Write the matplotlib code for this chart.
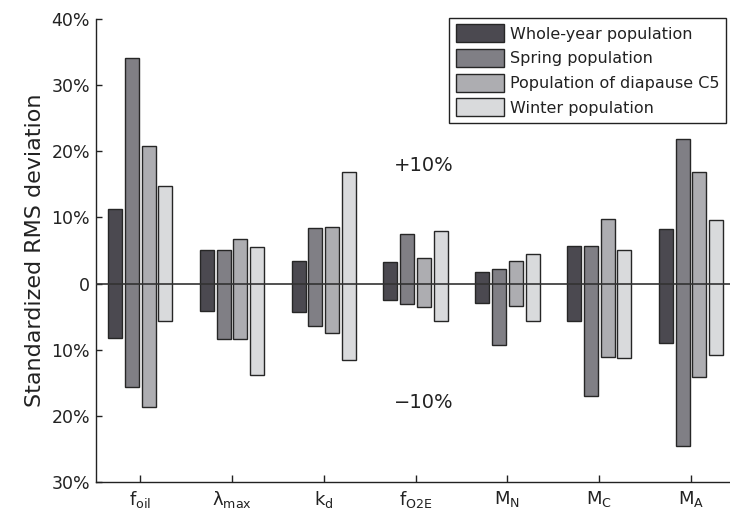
import matplotlib.pyplot as plt
import numpy as np

params = [r'$\mathregular{f_{oil}}$', r'$\mathregular{\lambda_{max}}$', r'$\mathregular{k_d}$',
          r'$\mathregular{f_{O2E}}$', r'$\mathregular{M_N}$', r'$\mathregular{M_C}$', r'$\mathregular{M_A}$']

series = ['Whole-year population', 'Spring population', 'Population of diapause C5', 'Winter population']

# upper (+10% perturbation) and lower (-10% perturbation) deviations, in %
whole_pos = [11.2, 5.0, 3.4, 3.2, 1.8, 5.7, 8.2]
whole_neg = [-8.25, -4.2, -4.3, -2.5, -2.9, -5.7, -9.0]
spring_pos = [34.1, 5.0, 8.4, 7.5, 2.2, 5.7, 21.9]
spring_neg = [-15.6, -8.4, -6.4, -3.1, -9.3, -17.0, -24.5]
diap_pos = [20.8, 6.8, 8.6, 3.8, 3.4, 9.8, 16.9]
diap_neg = [-18.7, -8.4, -7.5, -3.6, -3.4, -11.1, -14.1]
winter_pos = [14.8, 5.5, 16.8, 7.9, 4.4, 5.0, 9.6]
winter_neg = [-5.6, -13.8, -11.6, -5.6, -5.6, -11.3, -10.8]

ytick_vals = [-30, -20, -10, 0, 10, 20, 30, 40]
ytick_labels = ['30%', '20%', '10%', '0', '10%', '20%', '30%', '40%']

colors = ['#4b4950', '#807f85', '#adadb1', '#d9dadc']
txt = '#222222'

plt.rcParams['font.family'] = 'DejaVu Sans'

fig = plt.figure(figsize=(7.3, 5.13), dpi=100)
ax = fig.add_axes([0.131, 0.0604, 0.869, 0.9026])

x = np.arange(1, len(params) + 1)
step = 0.183
width = 0.152
data = [(whole_pos, whole_neg), (spring_pos, spring_neg), (diap_pos, diap_neg), (winter_pos, winter_neg)]
for i, (pos, neg) in enumerate(data):
    pos = np.array(pos)
    neg = np.array(neg)
    ax.bar(x + (i - 1.5) * step, pos - neg, bottom=neg, width=width,
           color=colors[i], edgecolor='#262626', linewidth=1.0, label=series[i], zorder=2)

ax.axhline(0, color='#333333', linewidth=1.2, zorder=3)

ax.text(4.09, 17.9, '+10%', fontsize=14, color=txt, ha='center', va='center')
ax.text(4.09, -18.0, '\u221210%', fontsize=14, color=txt, ha='center', va='center')

ax.set_xlim(0.514, 7.425)
ax.set_ylim(-30, 40)
ax.set_xticks(x)
ax.set_xticklabels(params, fontsize=13, color=txt)
ax.set_yticks(ytick_vals)
ax.set_yticklabels(ytick_labels, fontsize=12.5, color=txt)
ax.tick_params(direction='in', length=4, width=1, color='#222222', pad=4)
ax.tick_params(axis='x', length=5, pad=5)

for s in ['top', 'right']:
    ax.spines[s].set_visible(False)
for s in ['left', 'bottom']:
    ax.spines[s].set_color('#222222')
    ax.spines[s].set_linewidth(1.0)

ax.set_ylabel('Standardized RMS deviation', fontsize=16, color=txt, labelpad=5)

leg = ax.legend(loc='upper right', bbox_to_anchor=(726 / 730, 1 - 18 / 513),
                bbox_transform=fig.transFigure, borderaxespad=0,
                fontsize=11.5, handlelength=3.0, handleheight=1.35, handletextpad=0.4,
                labelspacing=0.42, borderpad=0.4, fancybox=False, framealpha=1)
leg.get_frame().set_edgecolor('#222222')
leg.get_frame().set_linewidth(1.0)
for t in leg.get_texts():
    t.set_color(txt)

fig.savefig('out.png', dpi=100)
